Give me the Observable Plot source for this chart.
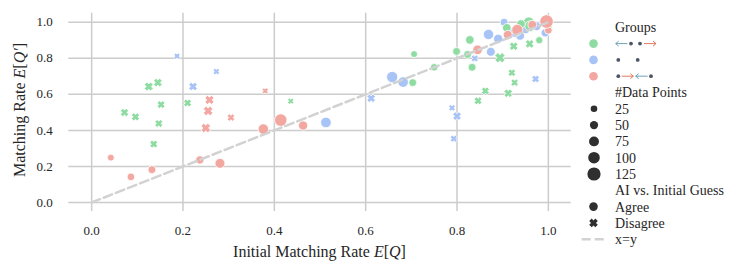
<!DOCTYPE html>
<html><head><meta charset="utf-8">
<script src="https://cdn.jsdelivr.net/npm/d3@7"></script>
<script src="https://cdn.jsdelivr.net/npm/@observablehq/plot@0.6"></script>
<style>body{margin:0;background:#fff} #chart svg{display:block}</style>
</head><body><div id="chart"></div>
<script>
// ---- data: [initial matching rate E[Q], matching rate E[Q'], #data points] ----
const groups = ["diverge", "split", "converge"];
const groupColors = ["#8fdca2", "#a8c3f5", "#f3a7a1"];
const agreeLevels = ["Agree", "Disagree"];
const sizeLegend = [25, 50, 75, 100, 125];
const ticks = [0, 0.2, 0.4, 0.6, 0.8, 1.0];

const blueDisagree = [
  [0.187, 0.812, 22], [0.222, 0.643, 55], [0.273, 0.726, 25], [0.612, 0.578, 55],
  [0.789, 0.525, 25], [0.800, 0.479, 55], [0.793, 0.354, 35], [0.839, 0.799, 35],
  [0.972, 0.685, 40]
];
const blueAgree = [
  [0.513, 0.444, 85], [0.658, 0.696, 95], [0.682, 0.668, 85], [0.874, 0.836, 60],
  [0.869, 0.932, 80], [0.890, 0.908, 65], [0.903, 1.000, 45], [0.938, 0.925, 60],
  [0.926, 0.945, 80], [0.974, 0.978, 60], [0.993, 0.941, 50], [0.950, 0.960, 55]
];
const greenDisagree = [
  [0.072, 0.499, 50], [0.096, 0.475, 50], [0.125, 0.643, 60], [0.145, 0.665, 55],
  [0.152, 0.543, 45], [0.147, 0.438, 45], [0.136, 0.324, 45], [0.210, 0.552, 45],
  [0.436, 0.562, 20], [0.862, 0.619, 45], [0.846, 0.564, 45], [0.894, 0.803, 80],
  [0.920, 0.720, 40], [0.926, 0.665, 40], [0.912, 0.606, 55], [0.924, 0.867, 55],
  [0.959, 0.880, 55]
];
const greenAgree = [
  [0.703, 0.665, 45], [0.706, 0.823, 30], [0.750, 0.750, 40], [0.799, 0.838, 45],
  [0.828, 0.902, 55], [0.823, 0.821, 45], [0.833, 0.750, 45], [0.909, 0.969, 55],
  [0.957, 1.000, 85], [0.960, 0.978, 85], [0.980, 0.900, 35], [1.000, 0.965, 45],
  [0.940, 0.990, 55]
];
const redDisagree = [
  [0.258, 0.569, 65], [0.255, 0.508, 70], [0.250, 0.413, 70], [0.305, 0.471, 40],
  [0.380, 0.619, 20]
];
const redAgree = [
  [0.042, 0.249, 30], [0.086, 0.142, 40], [0.132, 0.182, 45], [0.237, 0.236, 50],
  [0.281, 0.217, 75], [0.376, 0.407, 85], [0.414, 0.457, 115], [0.463, 0.427, 65],
  [0.845, 0.847, 70], [0.911, 0.930, 60], [0.932, 0.957, 95], [1.000, 0.955, 40],
  [0.965, 0.985, 60], [0.996, 1.004, 130]
];
const diagonal = [0, 1];

// ---- table ----
const rows = [];
function add(arr, group, agree) { for (const [x, y, n] of arr) rows.push({x, y, n, group, agree}); }
add(blueDisagree, "split", "Disagree");
add(greenDisagree, "diverge", "Disagree");
add(redDisagree, "converge", "Disagree");
add(blueAgree, "split", "Agree");
add(greenAgree, "diverge", "Agree");
add(redAgree, "converge", "Agree");

// filled "X" marker like matplotlib's
const symbolX = {draw(ctx, size) {
  const R = Math.sqrt(size / Math.PI), s = R * 1.0, e = s * 0.58;
  ctx.moveTo(-s, -s + e); ctx.lineTo(-s + e, -s); ctx.lineTo(0, -e); ctx.lineTo(s - e, -s);
  ctx.lineTo(s, -s + e); ctx.lineTo(e, 0); ctx.lineTo(s, s - e); ctx.lineTo(s - e, s);
  ctx.lineTo(0, e); ctx.lineTo(-s + e, s); ctx.lineTo(-s, s - e); ctx.lineTo(-e, 0); ctx.closePath();
}};

const FONT = "Liberation Serif, DejaVu Serif, serif";
const TXT = "#262626";

const plot = Plot.plot({
  width: 747, height: 272,
  marginLeft: 68.3, marginRight: 176.3, marginTop: 12.7, marginBottom: 61,
  style: {fontFamily: FONT, fontSize: "13px", color: TXT, background: "#fff"},
  x: {domain: [-0.05, 1.05]},
  y: {domain: [-0.05, 1.05]},
  color: {domain: groups, range: groupColors},
  r: {type: "linear", domain: [25, 125], range: [3.3, 6.6]},
  symbol: {domain: agreeLevels, range: [d3.symbolCircle, symbolX]},
  marks: [
    Plot.gridX(ticks, {stroke: "#cccccc", strokeOpacity: 1, strokeWidth: 1.5}),
    Plot.gridY(ticks, {stroke: "#cccccc", strokeOpacity: 1, strokeWidth: 1.5}),
    Plot.dot(rows, {x: "x", y: "y", r: "n", fill: "group", symbol: "agree", stroke: "white", strokeWidth: 0.8, sort: null}),
    Plot.line(diagonal, {x: d => d, y: d => d, stroke: "#d2d2d2", strokeWidth: 2.5, strokeDasharray: "9,4"}),
    Plot.axisX(ticks, {tickSize: 0, tickPadding: 14, tickFormat: d3.format(".1f"), label: null}),
    Plot.axisY(ticks, {tickSize: 0, tickPadding: 16, tickFormat: d3.format(".1f"), label: null})
  ]
});

const svg = d3.select(plot);
// axis titles with italic math
const xt = svg.append("text").attr("x", 319.5).attr("y", 257).attr("text-anchor", "middle")
  .attr("font-size", 16).attr("fill", TXT).attr("font-family", FONT);
xt.append("tspan").text("Initial Matching Rate ");
xt.append("tspan").attr("font-style", "italic").text("E");
xt.append("tspan").text("[");
xt.append("tspan").attr("font-style", "italic").text("Q");
xt.append("tspan").text("]");

const yt = svg.append("text").attr("transform", "translate(25,110) rotate(-90)").attr("text-anchor", "middle")
  .attr("font-size", 16).attr("fill", TXT).attr("font-family", FONT);
yt.append("tspan").text("Matching Rate ");
yt.append("tspan").attr("font-style", "italic").text("E");
yt.append("tspan").text("[");
yt.append("tspan").attr("font-style", "italic").text("Q′");
yt.append("tspan").text("]");

// legend
const lg = svg.append("g").attr("font-family", FONT).attr("font-size", 14).attr("fill", TXT).attr("text-anchor", "start");
const TX = 615, MX = 593.5, step = 16.3, y0 = 27.3;
const rowY = i => y0 + i * step;
function label(i, t) { lg.append("text").attr("x", TX).attr("y", rowY(i)).attr("dy", "0.35em").attr("text-anchor", "start").text(t); }
label(0, "Groups");
const arrowL = "#6fa3b8", arrowR = "#e07a5f", dotC = "#4d5567";
function arrow(g, x1, x2, y, dir, col) {
  g.append("line").attr("x1", x1).attr("x2", x2).attr("y1", y).attr("y2", y).attr("stroke", col).attr("stroke-width", 1);
  const tip = dir < 0 ? x1 : x2;
  g.append("path").attr("d", `M${tip - dir * 3},${y - 2.5}L${tip},${y}L${tip - dir * 3},${y + 2.5}`)
    .attr("fill", "none").attr("stroke", col).attr("stroke-width", 1);
}
function gdot(g, x, y) { g.append("circle").attr("cx", x).attr("cy", y).attr("r", 1.9).attr("fill", dotC); }
groups.forEach((gname, i) => {
  const y = rowY(i + 1);
  lg.append("circle").attr("cx", MX).attr("cy", y).attr("r", 4.3).attr("fill", groupColors[i]);
  const g = lg.append("g");
  if (i === 0) { arrow(g, 615.7, 627.3, y, -1, arrowL); gdot(g, 631, y); gdot(g, 640, y); arrow(g, 644, 656, y, 1, arrowR); }
  if (i === 1) { gdot(g, 618.3, y); gdot(g, 637.7, y); }
  if (i === 2) { gdot(g, 618.3, y); arrow(g, 621.7, 633.3, y, 1, arrowR); arrow(g, 635.7, 647.7, y, -1, arrowL); gdot(g, 651, y); }
});
label(4, "#Data Points");
const rScale = plot.scale("r");
sizeLegend.forEach((n, i) => {
  const y = rowY(5 + i);
  lg.append("circle").attr("cx", MX + 0.5).attr("cy", y).attr("r", rScale.apply(n)).attr("fill", "#2f2f2f");
  label(5 + i, String(n));
});
label(10, "AI vs. Initial Guess");
agreeLevels.forEach((a, i) => {
  const y = rowY(11 + i);
  const p = d3.path();
  (i === 0 ? d3.symbolCircle : symbolX).draw(p, 4.3 * 4.3 * Math.PI);
  lg.append("path").attr("d", p.toString()).attr("transform", `translate(${MX},${y})`).attr("fill", "#2f2f2f");
  label(11 + i, a);
});
lg.append("line").attr("x1", 581.7).attr("x2", 604).attr("y1", rowY(13)).attr("y2", rowY(13))
  .attr("stroke", "#d2d2d2").attr("stroke-width", 2.5).attr("stroke-dasharray", "9,4");
label(13, "x=y");

document.getElementById("chart").appendChild(plot);
</script></body></html>
